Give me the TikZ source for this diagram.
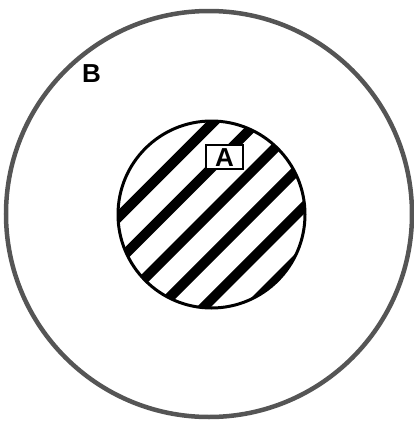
\documentclass[tikz,border=0pt]{standalone}
\usepackage{fontspec}
\setmainfont{Liberation Sans}
\usetikzlibrary{calc}
\definecolor{outergray}{RGB}{85,85,85}
\tikzset{
  lbl/.style={inner sep=0pt, text height=18pt, text depth=0pt, font=\bfseries\fontsize{26}{26}\selectfont},
  stripe/.style={line width=10pt, black},
}
\begin{document}
\begin{tikzpicture}[x=1pt,y=-1pt]
\useasboundingbox (0,0) rectangle (413,421);
\coordinate (oc) at (209,214);
\coordinate (ic) at (211.5,214.5);
% outer circle B
\draw[outergray, line width=4.5pt] (oc) circle[radius=203];
% hatched inner circle A
\begin{scope}
  \clip (ic) circle[radius=93.5];
  \foreach \d in {-64,-33,-2,29,60,92} {
    \draw[stripe] ($(ic)+(\d*0.7071,\d*0.7071)+(-110,110)$) -- ($(ic)+(\d*0.7071,\d*0.7071)+(110,-110)$);
  }
\end{scope}
\draw[black, line width=3pt] (ic) circle[radius=93.5];
% labels
\node[lbl, draw, fill=white, line width=1.5pt, minimum width=37pt, minimum height=24pt] (A) at (224.5,157) {A};
\node[lbl] (B) at (91.5,73) {B};
\end{tikzpicture}
\end{document}
